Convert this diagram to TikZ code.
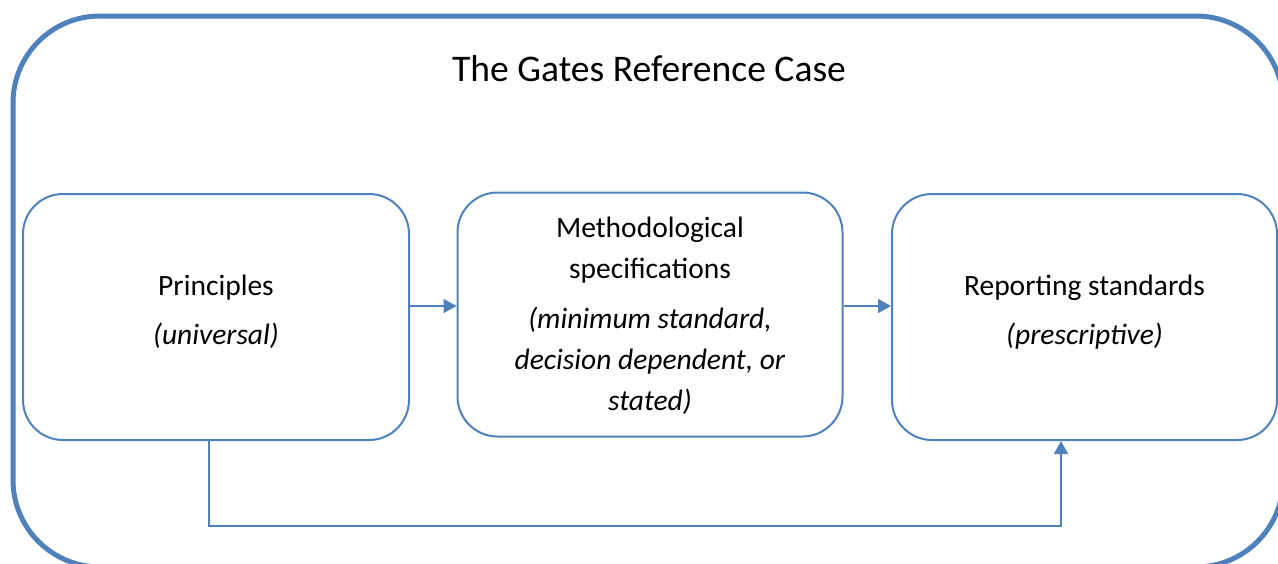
\documentclass[tikz,border=0pt]{standalone}
\usepackage{fontspec}
\setmainfont{Carlito}
\usetikzlibrary{arrows.meta}
\definecolor{obl}{HTML}{4F81BD}
\tikzset{
  stagebox/.style={draw=obl, line width=2pt, rounded corners=40pt, minimum width=386pt, minimum height=246pt, inner sep=0pt},
  frame/.style={draw=obl, line width=5pt, rounded corners=87pt},
  link/.style={draw=obl, line width=2pt, -{Triangle[length=13pt,width=14pt]}},
  btext/.style={align=center, font=\fontsize{29.5}{41}\selectfont, inner sep=0pt},
}
\begin{document}
\begin{tikzpicture}[x=1pt,y=-1pt]
\useasboundingbox (0,0) rectangle (1278,563);
\clip (0,0) rectangle (1278,563);
\draw[frame] (13,16) rectangle (1283,567);
\node[font=\fontsize{37.6}{42}\selectfont, inner sep=0pt] (title) at (649,69) {The Gates Reference Case};
\node[stagebox] (b1) at (216,317) {};
\node[stagebox, minimum width=385pt, minimum height=244pt] (b2) at (650,314.5) {};
\node[stagebox, minimum width=385pt] (b3) at (1084.5,317) {};
\node[btext] (t1) at (216,312) {Principles\\[8pt]\textit{(universal)}};
\node[btext] (t2) at (650,316) {Methodological\\specifications\\[9pt]\textit{(minimum standard,}\\\textit{decision dependent, or}\\\textit{stated)}};
\node[btext] (t3) at (1084.5,312) {Reporting standards\\[8pt]\textit{(prescriptive)}};
\coordinate (r1) at (0,306);
\draw[link] (b1.east |- r1) -- (b2.west |- r1);
\draw[link] (b2.east |- r1) -- (b3.west |- r1);
\coordinate (c1) at (209,526);
\coordinate (c2) at (1061,526);
\draw[link] (b1.south -| c1) -- (c1) -- (c2) -- (b3.south -| c2);
\end{tikzpicture}
\end{document}
